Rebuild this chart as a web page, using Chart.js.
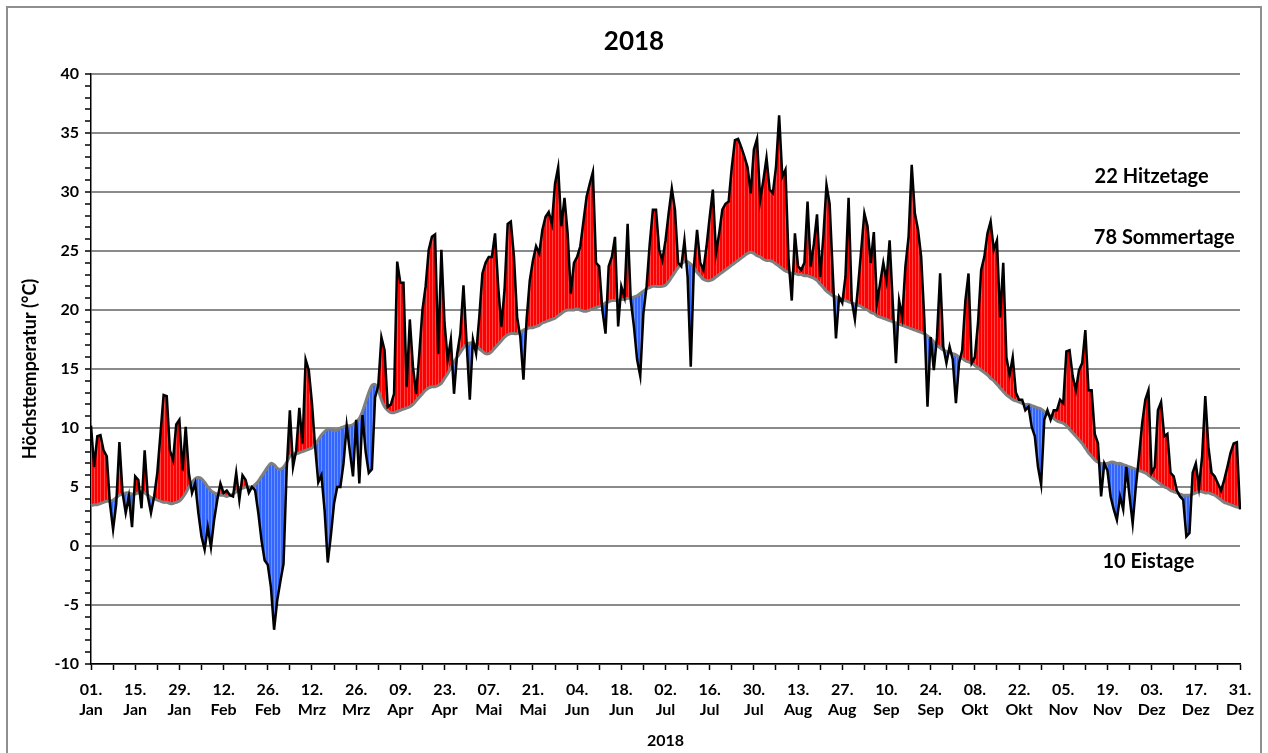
<!DOCTYPE html>
<html>
<head>
<meta charset="utf-8">
<script src="https://cdn.jsdelivr.net/npm/chart.js@4"></script>
<style>
  body { margin: 0; background: #fff; }
</style>
</head>
<body>
<canvas id="tempChart" width="1268" height="753"></canvas>
<script>
// categories
const monthNames = ['Jan', 'Feb', 'Mrz', 'Apr', 'Mai', 'Jun', 'Jul', 'Aug', 'Sep', 'Okt', 'Nov', 'Dez'];
const monthLengths = [31, 28, 31, 30, 31, 30, 31, 31, 30, 31, 30, 31];

// daily maximum temperature 2018 (°C)
const tmaxJan = [10.2, 6.7, 9.3, 9.4, 8.1, 7.6, 3.6, 1.4, 3.6, 8.8, 4.5, 2.8, 4.2, 1.6, 5.9, 5.6, 3.2, 8.1, 4.2, 2.8, 4.2, 6.2, 9.5, 12.8, 12.7, 8.1, 7.3, 10.3, 10.7, 6.4, 10.1];
const tmaxFeb = [6.2, 4.5, 5.3, 2.8, 0.8, -0.3, 1.6, -0.1, 2.2, 3.9, 5.3, 4.5, 4.7, 4.3, 4.2, 6.2, 3.9, 6.0, 5.6, 4.5, 5.0, 4.7, 2.8, 0.5, -1.2, -1.6, -3.5, -7.1];
const tmaxMar = [-4.6, -3.0, -1.5, 6.5, 11.5, 6.7, 8.1, 11.7, 8.7, 15.8, 14.9, 12.1, 8.4, 5.4, 6.0, 3.0, -1.4, 0.9, 3.6, 5.0, 5.0, 7.0, 10.2, 8.0, 5.9, 10.7, 5.3, 11.1, 8.0, 6.2, 6.5];
const tmaxApr = [12.6, 13.6, 17.7, 16.6, 11.8, 12.0, 12.9, 24.1, 22.3, 22.3, 13.5, 19.2, 15.2, 12.9, 16.3, 20.0, 22.0, 25.1, 26.2, 26.4, 16.3, 25.1, 18.9, 15.8, 17.5, 12.9, 16.3, 18.0, 22.1, 17.2];
const tmaxMay = [12.4, 17.5, 16.3, 19.4, 23.1, 24.0, 24.5, 24.5, 26.5, 22.0, 18.6, 21.7, 27.3, 27.5, 24.5, 19.4, 17.7, 14.1, 19.2, 22.5, 24.2, 25.4, 24.8, 26.8, 27.9, 28.3, 27.3, 30.7, 32.1, 27.1, 29.5];
const tmaxJun = [26.5, 21.4, 24.0, 24.5, 25.4, 27.5, 29.6, 30.7, 31.7, 24.0, 23.7, 20.0, 18.0, 23.7, 24.5, 26.2, 18.6, 22.0, 21.1, 27.3, 20.8, 18.6, 15.8, 14.4, 19.7, 22.0, 25.6, 28.5, 28.5, 25.1];
const tmaxJul = [24.2, 25.9, 28.2, 30.3, 28.5, 24.0, 23.7, 25.9, 22.8, 15.2, 23.7, 26.8, 24.0, 23.4, 25.4, 27.9, 30.2, 24.8, 26.5, 28.5, 29.0, 29.2, 32.1, 34.4, 34.5, 33.8, 33.0, 32.1, 29.9, 33.6, 34.5];
const tmaxAug = [29.3, 31.0, 32.9, 30.2, 29.9, 32.1, 36.5, 31.3, 31.9, 24.2, 20.8, 26.5, 23.7, 23.4, 24.0, 29.2, 23.7, 25.6, 28.1, 22.8, 26.2, 30.6, 29.0, 23.1, 17.6, 21.1, 20.6, 22.8, 29.5, 20.8, 19.2];
const tmaxSep = [22.0, 25.1, 28.2, 27.1, 24.0, 26.6, 20.6, 22.3, 24.0, 22.5, 25.9, 20.6, 15.5, 20.8, 19.4, 23.7, 26.2, 32.3, 28.2, 26.8, 24.5, 19.2, 11.8, 17.7, 14.9, 17.7, 23.1, 16.9, 15.5, 16.9];
const tmaxOct = [15.8, 12.1, 15.5, 16.6, 20.8, 23.1, 15.5, 16.0, 18.9, 23.4, 24.5, 26.5, 27.5, 25.1, 25.9, 19.4, 24.0, 16.0, 14.5, 16.0, 13.0, 12.4, 12.4, 11.5, 11.8, 10.1, 9.3, 6.7, 5.2, 10.7, 11.5];
const tmaxNov = [10.7, 11.5, 11.5, 12.4, 12.1, 16.5, 16.6, 14.4, 13.2, 14.9, 15.5, 18.3, 13.2, 13.2, 9.5, 8.7, 4.2, 7.0, 6.4, 4.2, 3.1, 2.2, 4.2, 3.1, 6.7, 4.2, 1.9, 5.0, 7.6, 10.4];
const tmaxDec = [12.4, 13.2, 6.2, 6.7, 11.5, 12.2, 9.3, 9.5, 6.2, 5.9, 4.7, 4.2, 3.9, 0.8, 1.1, 6.2, 7.0, 5.0, 7.6, 12.7, 8.4, 6.2, 5.9, 5.3, 4.7, 5.6, 6.7, 7.9, 8.7, 8.8, 3.1];

// long-term mean of the daily maximum (grey line)
const normalJan = [3.4, 3.5, 3.5, 3.6, 3.7, 3.8, 3.8, 3.9, 4.1, 4.3, 4.4, 4.5, 4.5, 4.4, 4.4, 4.5, 4.6, 4.5, 4.3, 4.1, 4.0, 3.9, 3.8, 3.7, 3.7, 3.6, 3.6, 3.7, 3.8, 4.1, 4.5];
const normalFeb = [5.0, 5.4, 5.7, 5.8, 5.7, 5.4, 5.0, 4.7, 4.5, 4.4, 4.3, 4.3, 4.2, 4.3, 4.4, 4.6, 4.8, 4.9, 5.0, 5.0, 5.0, 5.2, 5.5, 5.9, 6.3, 6.7, 7.0, 6.9];
const normalMar = [6.6, 6.5, 6.7, 7.1, 7.6, 7.8, 7.8, 7.9, 8.0, 8.1, 8.2, 8.3, 8.6, 9.0, 9.4, 9.7, 9.9, 9.9, 9.8, 9.8, 10.0, 10.1, 10.2, 10.2, 10.3, 10.5, 10.8, 11.4, 12.2, 13.0, 13.6];
const normalApr = [13.7, 13.2, 12.4, 11.8, 11.5, 11.3, 11.3, 11.4, 11.5, 11.6, 11.7, 11.8, 12.0, 12.3, 12.6, 12.9, 13.2, 13.4, 13.5, 13.5, 13.6, 13.8, 14.2, 14.6, 15.1, 15.6, 16.0, 16.4, 16.8, 17.1];
const normalMay = [17.2, 17.2, 17.0, 16.7, 16.5, 16.3, 16.3, 16.5, 16.8, 17.1, 17.4, 17.7, 17.9, 18.0, 18.0, 18.0, 18.1, 18.3, 18.4, 18.5, 18.5, 18.6, 18.7, 18.9, 19.0, 19.1, 19.2, 19.3, 19.5, 19.7, 19.9];
const normalJun = [20.0, 20.0, 20.0, 20.1, 20.0, 19.9, 19.9, 20.0, 20.1, 20.2, 20.3, 20.4, 20.6, 20.7, 20.8, 20.8, 20.8, 20.9, 20.9, 21.0, 21.0, 21.1, 21.2, 21.4, 21.6, 21.8, 21.9, 22.0, 22.0, 22.0];
const normalJul = [22.0, 22.1, 22.4, 22.8, 23.2, 23.6, 23.9, 24.1, 24.1, 23.9, 23.6, 23.2, 22.9, 22.6, 22.5, 22.5, 22.6, 22.8, 23.0, 23.2, 23.4, 23.6, 23.8, 24.0, 24.2, 24.4, 24.6, 24.8, 24.9, 24.8, 24.6];
const normalAug = [24.5, 24.3, 24.2, 24.2, 24.1, 23.9, 23.7, 23.5, 23.3, 23.2, 23.1, 23.1, 23.0, 23.0, 22.9, 22.9, 22.8, 22.7, 22.5, 22.2, 21.9, 21.6, 21.4, 21.2, 21.1, 21.0, 20.9, 20.8, 20.7, 20.6, 20.5];
const normalSep = [20.4, 20.3, 20.1, 20.0, 19.8, 19.7, 19.5, 19.4, 19.3, 19.2, 19.1, 19.0, 18.9, 18.8, 18.7, 18.6, 18.5, 18.4, 18.3, 18.2, 18.1, 18.0, 17.8, 17.6, 17.3, 17.0, 16.8, 16.6, 16.5, 16.4];
const normalOct = [16.3, 16.2, 16.0, 15.9, 15.7, 15.6, 15.5, 15.3, 15.1, 14.9, 14.7, 14.5, 14.2, 14.0, 13.7, 13.4, 13.1, 12.8, 12.6, 12.4, 12.3, 12.2, 12.1, 12.0, 12.0, 11.9, 11.8, 11.7, 11.6, 11.4, 11.2];
const normalNov = [11.0, 10.8, 10.6, 10.5, 10.4, 10.2, 9.9, 9.6, 9.3, 9.0, 8.7, 8.3, 7.9, 7.6, 7.3, 7.1, 7.0, 7.0, 7.0, 7.1, 7.1, 7.0, 7.0, 6.9, 6.8, 6.7, 6.6, 6.5, 6.4, 6.3];
const normalDec = [6.2, 6.0, 5.8, 5.6, 5.4, 5.2, 5.0, 4.9, 4.7, 4.6, 4.5, 4.4, 4.3, 4.3, 4.3, 4.4, 4.5, 4.6, 4.6, 4.5, 4.5, 4.4, 4.3, 4.1, 3.9, 3.7, 3.6, 3.5, 3.4, 3.3, 3.3];

// y axis
const yMin = -10;
const yMax = 40;
const yMajorStep = 5;
const yMinorStep = 1;

// x axis: labelled every 14 days, tick mark every 7 days
const xLabelEvery = 14;
const xTickEvery = 7;

// text notes (day index, temperature)
const noteTexts = ['22 Hitzetage', '78 Sommertage', '10 Eistage'];
const noteDays = [336, 340, 335];
const noteValues = [31.3, 26.1, -1.3];

const dayLabels = [];
monthNames.forEach(function (m, mi) {
    for (let d = 1; d <= monthLengths[mi]; d++) {
        dayLabels.push(String(d).padStart(2, '0') + '. ' + m);
    }
});
const tmax = [].concat(tmaxJan, tmaxFeb, tmaxMar, tmaxApr, tmaxMay, tmaxJun, tmaxJul, tmaxAug, tmaxSep, tmaxOct, tmaxNov, tmaxDec);
const normal = [].concat(normalJan, normalFeb, normalMar, normalApr, normalMay, normalJun, normalJul, normalAug, normalSep, normalOct, normalNov, normalDec);

const FONT = 'Lato, "Open Sans", sans-serif';

// thin white strokes inside the filled area, title, notes and frame
const extrasPlugin = {
    id: 'extras',
    beforeDatasetsDraw(chart) {
        const ctx = chart.ctx;
        const x = chart.scales.x;
        const y = chart.scales.y;
        ctx.save();
        ctx.strokeStyle = 'rgba(255,255,255,0.28)';
        ctx.lineWidth = 1;
        for (let i = 0; i < tmax.length; i++) {
            const px = Math.round(x.getPixelForValue(i)) + 0.5;
            const y1 = y.getPixelForValue(tmax[i]);
            const y2 = y.getPixelForValue(normal[i]);
            if (Math.abs(y1 - y2) < 4) continue;
            ctx.beginPath();
            ctx.moveTo(px, Math.min(y1, y2) + 1.5);
            ctx.lineTo(px, Math.max(y1, y2) - 1.5);
            ctx.stroke();
        }
        ctx.restore();
    },
    afterDraw(chart) {
        const ctx = chart.ctx;
        const x = chart.scales.x;
        const y = chart.scales.y;
        ctx.save();
        ctx.fillStyle = '#000';
        ctx.textAlign = 'center';
        ctx.textBaseline = 'middle';
        ctx.font = 'bold 26px ' + FONT;
        ctx.fillText('2018', chart.width / 2, 42);
        ctx.font = 'bold 20px ' + FONT;
        noteTexts.forEach(function (t, i) {
            ctx.fillText(t, x.getPixelForValue(noteDays[i]), y.getPixelForValue(noteValues[i]));
        });
        ctx.strokeStyle = '#8f8f8f';
        ctx.lineWidth = 2;
        ctx.strokeRect(7, 7, 1254, 770);
        ctx.restore();
    }
};

new Chart(document.getElementById('tempChart').getContext('2d'), {
    type: 'line',
    data: {
        labels: dayLabels,
        datasets: [{
            label: 'Höchsttemperatur',
            data: tmax,
            borderColor: '#000',
            borderWidth: 2.5,
            pointRadius: 0,
            tension: 0,
            fill: { target: 1, above: '#ff0000', below: '#3366ff' }
        }, {
            label: 'Mittel',
            data: normal,
            borderColor: '#7f7f7f',
            borderWidth: 3,
            pointRadius: 0,
            tension: 0.3,
            fill: false
        }]
    },
    options: {
        responsive: false,
        animation: false,
        layout: { padding: { left: 0, right: 28, top: 74, bottom: 0 } },
        plugins: {
            legend: { display: false },
            tooltip: { enabled: false },
            filler: { drawTime: 'beforeDatasetsDraw' },
            title: { display: false }
        },
        scales: {
            x: {
                offset: false,
                border: { color: '#000', width: 1.5 },
                grid: {
                    drawOnChartArea: false,
                    tickLength: 6,
                    tickWidth: 1.5,
                    tickColor: ctx => ctx.index % xTickEvery === 0 ? '#000' : 'rgba(0,0,0,0)'
                },
                ticks: {
                    autoSkip: false,
                    maxRotation: 0,
                    minRotation: 0,
                    padding: 9,
                    color: '#000',
                    font: { family: FONT, size: 16, weight: 'bold', lineHeight: 1.3 },
                    callback: function (value, index) {
                        if (index % xLabelEvery !== 0) return '';
                        return dayLabels[index].split(' ');
                    }
                },
                title: {
                    display: true,
                    text: '2018',
                    color: '#000',
                    font: { family: FONT, size: 16, weight: 'bold' },
                    padding: { top: 0, bottom: 3 }
                },
                afterFit: scale => { scale.height = 89; }
            },
            y: {
                min: yMin,
                max: yMax,
                border: { color: '#000', width: 1.5 },
                grid: {
                    color: ctx => ctx.tick && ctx.tick.value % yMajorStep === 0 ? '#8a8a8a' : 'rgba(0,0,0,0)',
                    lineWidth: 2,
                    tickColor: '#000',
                    tickLength: 6,
                    tickWidth: 1.5
                },
                afterBuildTicks: scale => {
                    const t = [];
                    for (let v = yMin; v <= yMax; v += yMinorStep) t.push({ value: v });
                    scale.ticks = t;
                },
                ticks: {
                    autoSkip: false,
                    padding: 6,
                    color: '#000',
                    font: { family: FONT, size: 16, weight: 'bold' },
                    callback: v => v % yMajorStep === 0 ? String(v) : ''
                },
                title: {
                    display: true,
                    text: 'Höchsttemperatur (°C)',
                    color: '#000',
                    font: { family: FONT, size: 18, weight: 'bold' },
                    padding: { top: 19, bottom: 0 }
                },
                afterFit: scale => { scale.width = 91; }
            }
        }
    },
    plugins: [extrasPlugin]
});
</script>
</body>
</html>
